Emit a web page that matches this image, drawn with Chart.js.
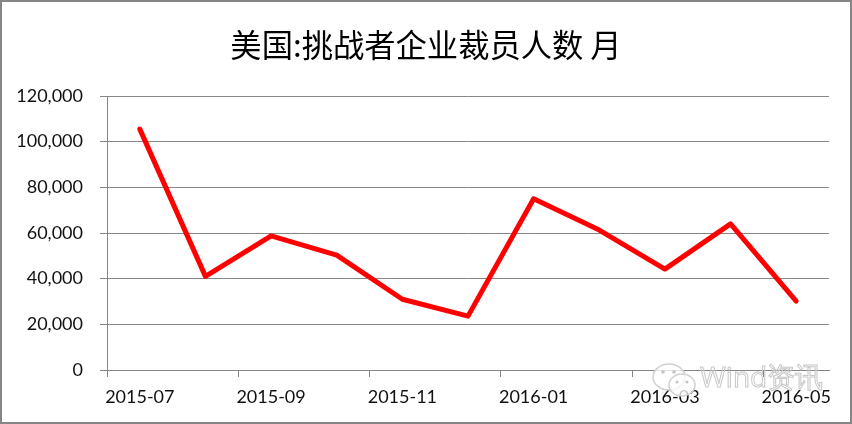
<!DOCTYPE html>
<html>
<head>
<meta charset="utf-8">
<script src="https://cdn.jsdelivr.net/npm/chart.js@4"></script>
<style>
  html, body { margin: 0; padding: 0; background: #fff; }
  #wrap { position: relative; width: 852px; height: 424px; overflow: hidden; }
  #frame { position: absolute; left: 0; top: 0; width: 852px; height: 424px; box-sizing: border-box; border: 2px solid #868686; }
  #title { position: absolute; left: 0; top: 21px; width: 852px; text-align: center; font: 31.3px "Noto Sans CJK SC", sans-serif; line-height: 46px; color: #000; }
  #mark { position: absolute; left: 650px; top: 361px; }
  #markText { position: absolute; left: 700px; top: 357px; font: 28px "Open Sans", sans-serif; color: transparent; -webkit-text-stroke: 1px #c8c8c8; white-space: nowrap; }
</style>
</head>
<body>
<div id="wrap">
  <canvas id="chart" width="852" height="424"></canvas>
  <div id="title">美国:挑战者企业裁员人数 月</div>
  <div id="frame"></div>
  <svg id="mark" width="50" height="40" viewBox="0 0 50 40">
    <ellipse cx="19" cy="16" rx="16" ry="13" fill="rgba(255,255,255,0.75)" stroke="#d0d0d0" stroke-width="1.5"/>
    <ellipse cx="32" cy="24" rx="13" ry="11" fill="rgba(255,255,255,0.75)" stroke="#d0d0d0" stroke-width="1.5"/>
    <circle cx="13" cy="11" r="1.8" fill="#c4c4c4"/>
    <circle cx="24" cy="11" r="1.8" fill="#c4c4c4"/>
    <circle cx="27" cy="21" r="1.5" fill="#c4c4c4"/>
    <circle cx="37" cy="21" r="1.5" fill="#c4c4c4"/>
  </svg>
  <div id="markText">Wind资讯</div>
</div>
<script>
const months = ["2015-07", "2015-08", "2015-09", "2015-10", "2015-11", "2015-12",
  "2016-01", "2016-02", "2016-03", "2016-04", "2016-05"];
const layoffs = [105500, 41000, 58700, 50300, 31000, 23600, 75000, 61300, 44200, 64000, 30200];
const axisColor = "#868686";
const labelFont = { family: "Lato, 'Open Sans', sans-serif", size: 18 };

new Chart(document.getElementById("chart"), {
  type: "line",
  data: {
    labels: months,
    datasets: [{
      data: layoffs,
      borderColor: "#ff0000",
      borderWidth: 5,
      borderCapStyle: "round",
      borderJoinStyle: "round",
      pointRadius: 0,
      tension: 0,
      fill: false,
    }],
  },
  options: {
    responsive: false,
    animation: false,
    layout: { padding: { right: 23, top: 96, bottom: 0, left: 0 } },
    plugins: {
      legend: { display: false },
      tooltip: { enabled: false },
    },
    scales: {
      x: {
        type: "category",
        offset: true,
        afterFit: (scale) => { scale.height = 54; },
        border: { color: axisColor },
        grid: {
          offset: true,
          drawOnChartArea: false,
          tickLength: 7,
          // a tick mark only every second month, like the labels
          tickColor: (ctx) => (ctx.index % 2 === 0 && ctx.index < months.length ? axisColor : "rgba(0,0,0,0)"),
        },
        ticks: {
          autoSkip: false,
          maxRotation: 0,
          color: "#111",
          font: labelFont,
          padding: 9,
          callback: function (value, index) {
            return index % 2 === 0 ? months[index] : "";
          },
        },
      },
      y: {
        min: 0,
        max: 120000,
        afterFit: (scale) => { scale.width = 107; },
        border: { color: axisColor },
        grid: { color: axisColor, tickLength: 7 },
        ticks: {
          stepSize: 20000,
          color: "#111",
          font: labelFont,
          padding: 17,
          callback: (v) => v.toLocaleString("en-US"),
        },
      },
    },
  },
});
</script>
</body>
</html>
